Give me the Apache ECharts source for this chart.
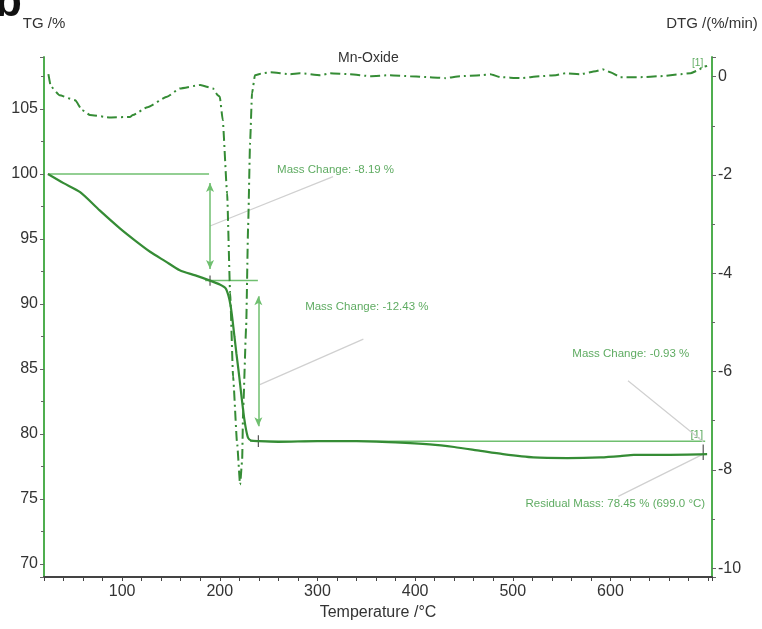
<!DOCTYPE html>
<html>
<head>
<meta charset="utf-8">
<script src="https://cdn.jsdelivr.net/npm/echarts@6/dist/echarts.min.js"></script>
<style>
  html, body { margin: 0; padding: 0; background: #fff; }
  #chart { width: 762px; height: 629px; }
</style>
</head>
<body>
<div id="chart"></div>
<script>
// ---- Data ----
const tgTemp = [24, 40, 57, 77, 98, 113, 129, 144, 159, 175, 190, 200, 206, 209, 211, 213, 215, 217, 219, 221, 223, 225, 227, 229, 232, 240, 260, 300, 340, 380, 415, 440, 467, 490, 521, 556, 590, 610, 624, 658, 699];
const tgMass = [100, 99.3, 98.6, 97.2, 95.8, 94.9, 94.0, 93.3, 92.6, 92.2, 91.8, 91.5, 91.2, 90.6, 89.9, 88.8, 87.5, 86.2, 85.0, 83.7, 82.4, 81.2, 80.3, 79.7, 79.5, 79.45, 79.4, 79.45, 79.45, 79.35, 79.2, 79.0, 78.7, 78.45, 78.2, 78.15, 78.2, 78.3, 78.4, 78.4, 78.45];

const dtgTemp = [24.5, 27, 36, 52, 59, 67, 88, 108, 111, 126, 146, 159, 180, 193, 198, 200, 203, 207.5, 210.6, 213.6, 217.7, 220.8, 222.9, 223.9, 227, 229, 231, 233, 236, 244, 252, 272, 282, 303, 313, 333, 354, 374, 395, 415, 431, 446, 467, 477, 487, 508, 528, 544, 554, 569, 585, 592, 600, 610, 631, 651, 672, 682, 690, 695, 699];
const dtgRate = [0.05, -0.2, -0.38, -0.48, -0.68, -0.78, -0.83, -0.82, -0.78, -0.62, -0.41, -0.24, -0.17, -0.24, -0.38, -0.41, -0.88, -2.37, -4.4, -6.1, -7.45, -8.3, -7.8, -6.78, -5.09, -3.06, -1.35, -0.34, 0.03, 0.07, 0.09, 0.05, 0.07, 0.03, 0.07, 0.05, 0.01, 0.03, 0.01, -0.01, -0.03, 0.01, 0.03, 0.05, -0.01, -0.03, 0.01, 0.03, 0.07, 0.05, 0.11, 0.15, 0.09, -0.01, -0.01, 0.01, 0.05, 0.07, 0.13, 0.2, 0.22];

// Step-evaluation annotations (data units: temperature, mass %)
const refLevels = [[24, 189, 100], [185, 239, 91.8], [231, 697, 79.45]];   // [T start, T end, mass]
const stepArrows = [[190, 99.3, 92.7], [239.5, 90.6, 80.6]];             // [T, mass top, mass bottom]
const stepMarks = [[190, 92.2, 91.4], [239.5, 79.9, 79.0], [695, 79.2, 78.0]];
const leaders = [[190, 96.0, 316, 99.8], [241, 83.8, 347, 87.3], [618, 84.1, 695, 79.4], [608, 75.2, 695, 78.45]];
const leftLabels = [[258.7, 100.3, 'Mass Change: -8.19 %'], [287.4, 89.8, 'Mass Change: -12.43 %'], [561, 86.2, 'Mass Change: -0.93 %']];
const rightLabels = [[697, 74.6, 'Residual Mass: 78.45 % (699.0 °C)'], [695, 79.95, '[1]']];
const dtgTag = [[695, 0.27, '[1]']];

const FONT = "'Liberation Sans', Arial, sans-serif";
const curveGreen = '#358c35';
const axisGreen = '#4fae4f';
const annoGreen = '#6fbf6f';
const textGreen = '#36963a';

const series = [];
series.push({
  type: 'line', name: 'TG', yAxisIndex: 0, showSymbol: false, smooth: 0.25,
  data: tgTemp.map((t, i) => [t, tgMass[i]]),
  lineStyle: { color: curveGreen, width: 2.2 }, z: 5
});
series.push({
  type: 'line', name: 'DTG', yAxisIndex: 1, showSymbol: false, smooth: 0.15, smoothMonotone: 'x',
  data: dtgTemp.map((t, i) => [t, dtgRate[i]]),
  lineStyle: { color: curveGreen, width: 2, type: [10, 4, 2, 4] }, z: 5
});
refLevels.forEach(r => series.push({
  type: 'line', yAxisIndex: 0, showSymbol: false, silent: true,
  data: [[r[0], r[2]], [r[1], r[2]]], lineStyle: { color: annoGreen, width: 1.5 }
}));
stepMarks.forEach(m => series.push({
  type: 'line', yAxisIndex: 0, showSymbol: false, silent: true,
  data: [[m[0], m[1]], [m[0], m[2]]], lineStyle: { color: '#555', width: 1.2 }
}));
leaders.forEach(l => series.push({
  type: 'line', yAxisIndex: 0, showSymbol: false, silent: true,
  data: [[l[0], l[1]], [l[2], l[3]]], lineStyle: { color: '#d0d0d0', width: 1.2 }
}));
series.push({
  type: 'line', yAxisIndex: 0, data: [], silent: true,
  markLine: {
    silent: true, symbol: ['arrow', 'arrow'], symbolSize: [6, 9],
    label: { show: false },
    lineStyle: { color: annoGreen, width: 1.5, type: 'solid' },
    data: stepArrows.map(a => [{ coord: [a[0], a[1]] }, { coord: [a[0], a[2]] }])
  }
});
const labelStyle = { fontFamily: FONT, fontSize: 11.5, color: textGreen };
series.push({
  type: 'scatter', yAxisIndex: 0, symbolSize: 0, silent: true,
  data: leftLabels.map(l => ({ value: [l[0], l[1]], name: l[2] })),
  label: Object.assign({ show: true, position: 'right', distance: 0, formatter: p => p.name }, labelStyle)
});
series.push({
  type: 'scatter', yAxisIndex: 0, symbolSize: 0, silent: true,
  data: rightLabels.map(l => ({ value: [l[0], l[1]], name: l[2] })),
  label: Object.assign({ show: true, position: 'left', distance: 0, formatter: p => p.name }, labelStyle)
});
series.push({
  type: 'scatter', yAxisIndex: 1, symbolSize: 0, silent: true,
  data: dtgTag.map(l => ({ value: [l[0], l[1]], name: l[2] })),
  label: Object.assign({ show: true, position: 'left', distance: 0, formatter: p => p.name }, labelStyle, { fontSize: 10 })
});

const chart = echarts.init(document.getElementById('chart'), null, { renderer: 'canvas' });
chart.setOption({
  animation: false,
  backgroundColor: '#fff',
  textStyle: { fontFamily: FONT },
  title: {
    text: 'Mn-Oxide', left: 333, top: 46,
    textStyle: { fontFamily: FONT, fontSize: 14, fontWeight: 'normal', color: '#333' }
  },
  graphic: [{
    type: 'text', left: -5, top: -18,
    style: { text: 'b', font: "bold 44px 'Liberation Sans', Arial, sans-serif", fill: '#111' }
  }],
  grid: { left: 44, right: 50, top: 57, bottom: 52, containLabel: false },
  xAxis: {
    type: 'value', min: 20, max: 704, interval: 20,
    name: 'Temperature /°C', nameLocation: 'middle', nameGap: 24,
    nameTextStyle: { fontFamily: FONT, fontSize: 16, color: '#333' },
    axisLine: { onZero: false, lineStyle: { color: '#444', width: 2 } },
    axisTick: { show: true, length: 4, lineStyle: { color: '#444' } },
    axisLabel: { fontFamily: FONT, fontSize: 16, color: '#333', margin: 7,
      formatter: v => (v % 100 === 0 && v < 700 ? String(v) : '') },
    splitLine: { show: false }
  },
  yAxis: [{
    type: 'value', min: 69, max: 109, splitNumber: 8, position: 'left',
    name: 'TG /%', nameLocation: 'end', nameGap: 26,
    nameTextStyle: { fontFamily: FONT, fontSize: 15, color: '#333' },
    axisLine: { show: true, onZero: false, lineStyle: { color: axisGreen, width: 2 } },
    axisTick: { show: true, length: 4, lineStyle: { color: '#666' } },
    minorTick: { show: true, splitNumber: 2, length: 3, lineStyle: { color: '#666' } },
    axisLabel: { fontFamily: FONT, fontSize: 16, color: '#333', margin: 6, showMinLabel: false, showMaxLabel: false },
    splitLine: { show: false }
  }, {
    type: 'value', min: -10.18, max: 0.4, splitNumber: 5, position: 'right',
    name: 'DTG /(%/min)', nameLocation: 'end', nameGap: 26,
    nameTextStyle: { fontFamily: FONT, fontSize: 15, color: '#333' },
    axisLine: { show: true, onZero: false, lineStyle: { color: axisGreen, width: 2 } },
    axisTick: { show: true, length: 4, lineStyle: { color: '#666' } },
    minorTick: { show: true, splitNumber: 2, length: 3, lineStyle: { color: '#666' } },
    axisLabel: { fontFamily: FONT, fontSize: 16, color: '#333', margin: 6, showMinLabel: false, showMaxLabel: false },
    splitLine: { show: false }
  }],
  series: series
});
</script>
</body>
</html>
